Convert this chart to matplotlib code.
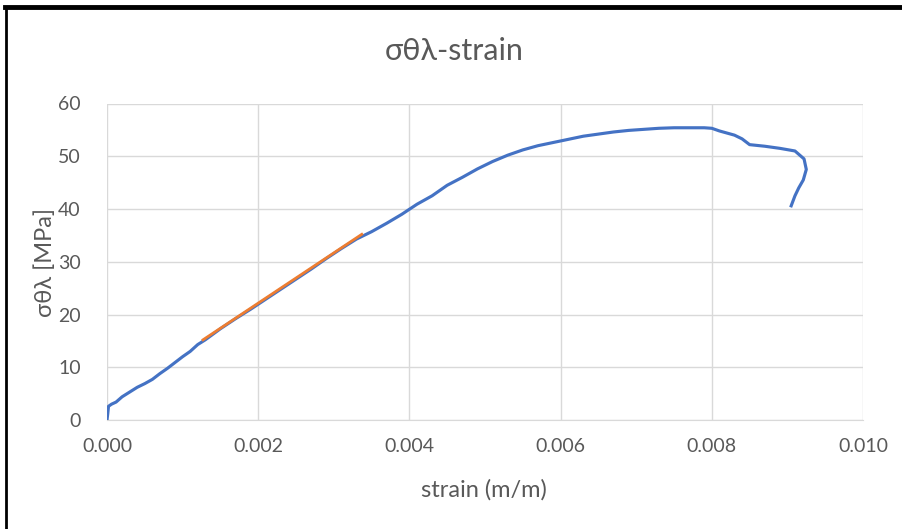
import matplotlib
matplotlib.use("Agg")
import matplotlib.pyplot as plt
from matplotlib.lines import Line2D

strain = [0, 0.00001, 0.00002, 0.00006, 0.00012, 0.0002, 0.0003, 0.0004, 0.0005, 0.0006,
          0.0007, 0.0008, 0.0009, 0.001, 0.0011, 0.0012, 0.0013, 0.0015, 0.0017, 0.0019,
          0.0021, 0.0023, 0.0025, 0.0027, 0.0029, 0.0031, 0.0033, 0.0035, 0.0037, 0.0039,
          0.0041, 0.0043, 0.0045, 0.0047, 0.0049, 0.0051, 0.0053, 0.0055, 0.0057, 0.0059,
          0.0061, 0.0063, 0.0065, 0.0067, 0.0069, 0.0071, 0.0073, 0.0075, 0.0077, 0.0079,
          0.0080, 0.0081, 0.0082, 0.0083, 0.0084, 0.0085, 0.0087, 0.0089, 0.0091, 0.00922,
          0.00925, 0.00921, 0.00915, 0.00910, 0.00905]
stress = [0, 1.2, 2.6, 3.0, 3.4, 4.4, 5.3, 6.2, 6.9, 7.7,
          8.8, 9.8, 10.9, 12.0, 13.0, 14.3, 15.2, 17.3, 19.2, 21.0,
          22.9, 24.8, 26.7, 28.6, 30.6, 32.5, 34.3, 35.7, 37.3, 39.0,
          40.9, 42.5, 44.5, 46.0, 47.6, 49.0, 50.2, 51.2, 52.0, 52.6,
          53.2, 53.8, 54.2, 54.6, 54.9, 55.1, 55.3, 55.4, 55.4, 55.4,
          55.3, 54.8, 54.4, 54.0, 53.3, 52.2, 51.9, 51.5, 51.0, 49.5,
          47.5, 45.5, 44.0, 42.5, 40.6]

fit_strain = [0.00127, 0.00337]
fit_stress = [15.2, 35.2]

xticks = [0.000, 0.002, 0.004, 0.006, 0.008, 0.010]
xticklabels = ["0.000", "0.002", "0.004", "0.006", "0.008", "0.010"]
yticks = [0, 10, 20, 30, 40, 50, 60]

FONT = ["Lato", "DejaVu Sans"]
plt.rcParams['font.family'] = FONT
TXT = "#595959"
GRID = "#d9d9d9"

fig = plt.figure(figsize=(9.02, 5.29), dpi=100)
ax = fig.add_axes([107/902, 1-420/529, (863-107)/902, (420-103.5)/529])

ax.plot(strain, stress, color="#4472C4", lw=2.25, solid_joinstyle="round", zorder=3)
ax.plot(fit_strain, fit_stress, color="#ED7D31", lw=2.0, zorder=4)

ax.set_xlim(0, 0.010)
ax.set_ylim(0, 60)
ax.set_xticks(xticks)
ax.set_xticklabels(xticklabels)
ax.set_yticks(yticks)
ax.grid(True, color=GRID, lw=1)
ax.set_axisbelow(True)
for s in ["top", "right", "left"]:
    ax.spines[s].set_visible(False)
ax.spines["bottom"].set_color(GRID)
ax.tick_params(length=0, colors=TXT, labelsize=14)
ax.tick_params(axis="x", pad=13)
ax.tick_params(axis="y", pad=19)

fig.text(454/902, 1-51/529, "σθλ-strain", ha="center", va="center", fontsize=22, color=TXT)
fig.text(484/902, 1-490/529, "strain (m/m)", ha="center", va="center", fontsize=17, color=TXT)
fig.text(45/902, 1-262/529, "σθλ [MPa]", ha="center", va="center", fontsize=17, color=TXT, rotation=90)

# frame lines
fig.add_artist(Line2D([5/902, 1], [1-7/529, 1-7/529], color="black", lw=3.5, transform=fig.transFigure))
fig.add_artist(Line2D([6/902, 6/902], [0, 1-7/529], color="black", lw=2, transform=fig.transFigure))

fig.savefig("out.png", dpi=100)
